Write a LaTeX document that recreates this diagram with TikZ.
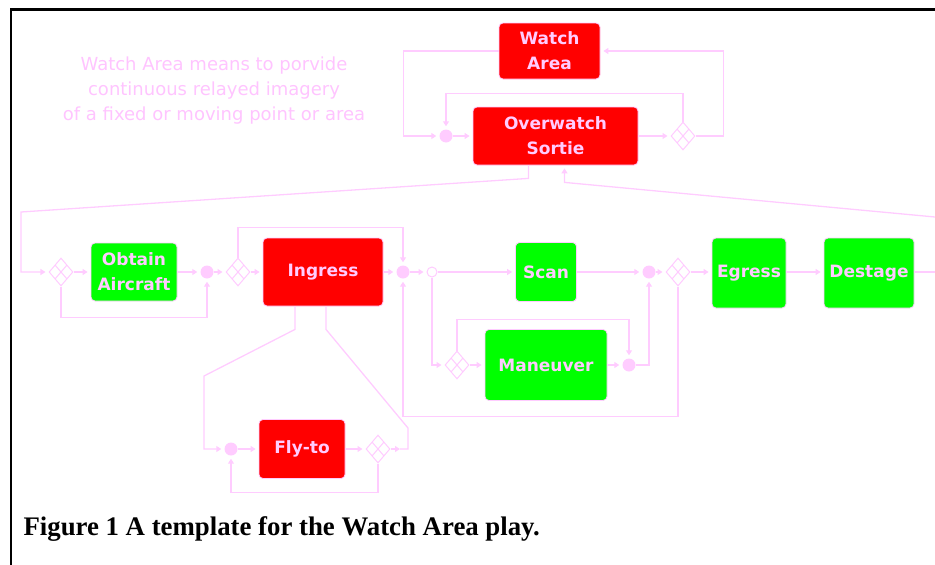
\documentclass[tikz,border=0pt]{standalone}
\usepackage{fontspec}
\usepackage{tikz}
\usetikzlibrary{arrows.meta}
\usetikzlibrary{calc}
\usetikzlibrary{shapes.geometric}

\newfontfamily\playfont{DejaVu Sans}
\newfontfamily\capfont{Liberation Serif}

\definecolor{linkpink}{HTML}{FFCCFF}
\definecolor{notepink}{HTML}{FFC4FF}
\definecolor{boxred}{HTML}{FF0000}
\definecolor{boxgreen}{HTML}{00FF00}

\begin{document}
\begin{tikzpicture}[x=1pt,y=-1pt,
	play/.style={rectangle, rounded corners=4pt, draw=linkpink, line width=0.8pt,
		text=linkpink, align=center, inner sep=0pt,
		font=\playfont\bfseries\fontsize{17}{25}\selectfont},
	redplay/.style={play, fill=boxred},
	greenplay/.style={play, fill=boxgreen},
	andjoin/.style={circle, fill=linkpink, minimum size=13pt, inner sep=0pt},
	fork/.style={circle, draw=linkpink, fill=white, line width=1pt, minimum size=10pt, inner sep=0pt},
	orsplit/.style={diamond, draw=linkpink, fill=white, line width=1pt,
		minimum width=24pt, minimum height=28pt, inner sep=0pt,
		path picture={
			\draw[linkpink, line width=1pt]
			($(path picture bounding box.north)!0.5!(path picture bounding box.west)$) --
			($(path picture bounding box.south)!0.5!(path picture bounding box.east)$)
			($(path picture bounding box.north)!0.5!(path picture bounding box.east)$) --
			($(path picture bounding box.south)!0.5!(path picture bounding box.west)$);}},
	wire/.style={draw=linkpink, line width=1.3pt},
	flow/.style={wire, -{Triangle[length=5pt,width=6pt]}, shorten >=3pt}]
	
	\useasboundingbox (0,0) rectangle (935,565);
	
	% frame
	\draw[line width=2.5pt] (11,565) -- (11,9.5) -- (935,9.5);
	
	% note
	\node[text=notepink, align=center, font=\playfont\fontsize{18}{25}\selectfont] (note) at (214,91)
	{Watch Area means to porvide\\continuous relayed imagery\\of a fixed or moving point or area};
	
	% top level
	\node[redplay, minimum width=101pt, minimum height=56pt] (wa) at (549.5,51) {Watch\\Area};
	\node[redplay, minimum width=165pt, minimum height=58pt] (ows) at (555.5,136) {Overwatch\\Sortie};
	\node[andjoin] (j1) at (446,136) {};
	\node[orsplit] (d1) at (683,136) {};
	
	% main row
	\node[orsplit] (d2) at (61,272) {};
	\node[greenplay, minimum width=86pt, minimum height=58pt] (oa) at (134,272) {Obtain\\Aircraft};
	\node[andjoin] (j2) at (207,272) {};
	\node[orsplit] (d3) at (238,272) {};
	\node[redplay, minimum width=120pt, minimum height=68pt] (ing) at (323,272) {Ingress};
	\node[andjoin] (j4) at (403,272) {};
	\node[fork] (o5) at (432,272) {};
	\node[greenplay, minimum width=61pt, minimum height=59pt] (scan) at (546,272) {Scan};
	\node[andjoin] (j7) at (649,272) {};
	\node[orsplit] (d6) at (678,272) {};
	\node[greenplay, minimum width=74pt, minimum height=70pt] (egr) at (749,273) {Egress};
	\node[greenplay, minimum width=90pt, minimum height=70pt] (des) at (869,273) {Destage};
	
	% maneuver branch
	\node[orsplit] (d5) at (457,365) {};
	\node[greenplay, minimum width=122pt, minimum height=71pt] (man) at (546,365) {Maneuver};
	\node[andjoin] (j8) at (629,365) {};
	
	% fly-to branch
	\node[andjoin] (j9) at (231,449) {};
	\node[redplay, minimum width=86pt, minimum height=59pt] (fly) at (302,449) {Fly-to};
	\node[orsplit] (d10) at (378,449) {};
	
	% bends and free ends
	\coordinate (lbend) at (21,212);
	\coordinate (rin) at (935,217);
	\coordinate (rout) at (935,272);
	\coordinate (flyl) at (204,376);
	\coordinate (flyout) at (400,449);
	\coordinate (flyr) at (408,428);
	
	% top loop
	\draw[flow] (wa.west) -- ++(-95,0) |- (j1);
	\draw[flow] (j1) -- (ows);
	\draw[flow] (ows) -- (d1);
	\draw[flow] (d1.east) -- ++(28,0) |- (wa.east);
	\draw[flow] (d1.north) -- ++(0,-28) -| (j1.north);
	
	% to and from the main row
	\draw[flow] ($(ows.south)+(-27,0)$) -- ++(0,13) -- (lbend) |- (d2);
	\draw[flow] (rin) -- ($(ows.south)+(9,17)$) -- ($(ows.south)+(9,0)$);
	
	% main row
	\draw[flow] (d2) -- (oa);
	\draw[flow] (oa) -- (j2);
	\draw[flow] (d2.south) -- ++(0,31) -| (j2.south);
	\draw[flow] (j2) -- (d3);
	\draw[flow] (d3) -- (ing);
	\draw[flow] (d3.north) -- ++(0,-30) -| (j4.north);
	\draw[flow] (ing) -- (j4);
	\draw[flow] (j4) -- (o5);
	\draw[flow] (o5) -- (scan);
	\draw[flow] (scan) -- (j7);
	\draw[flow] (j7) -- (d6);
	\draw[flow] (d6) -- (d6 -| egr.west);
	\draw[flow] (d6.south) -- ++(0,130) -| (j4.south);
	\draw[flow] (d6 -| egr.east) -- (d6 -| des.west);
	\draw[wire] (d6 -| des.east) -- (rout);
	
	% maneuver branch
	\draw[flow] (o5.south) |- (d5);
	\draw[flow] (d5) -- (man);
	\draw[flow] (d5.north) -- ++(0,-31) -| (j8.north);
	\draw[flow] (man) -- (j8);
	\draw[flow] (j8.east) -| (j7.south);
	
	% fly-to branch
	\draw[flow] ($(ing.south)+(-28,0)$) -- ++(0,23) -- (flyl) |- (j9);
	\draw[flow] (j9) -- (fly);
	\draw[flow] (fly) -- (d10);
	\draw[flow] (d10.south) -- ++(0,29) -| (j9.south);
	\draw[flow, shorten >=0pt] (d10) -- (flyout);
	\draw[wire] (flyout) -- (flyout -| flyr) -- (flyr) -- ($(ing.south)+(3,23)$) -- ($(ing.south)+(3,0)$);
	
	% caption
	\node[anchor=base west, font=\capfont\bfseries\fontsize{26.8}{30}\selectfont] (cap) at (20,535)
	{Figure 1 A template for the Watch Area play.};
	
\end{tikzpicture}
\end{document}
